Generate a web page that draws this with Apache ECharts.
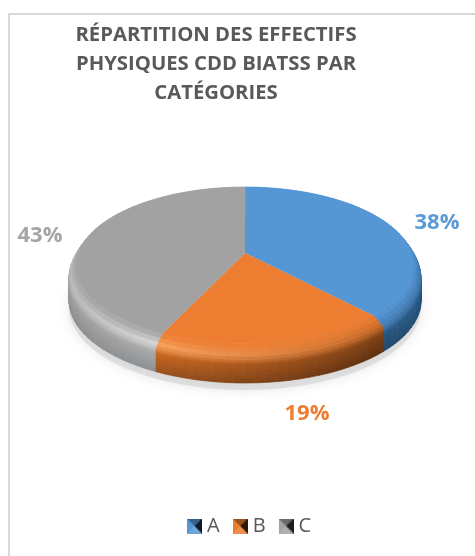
<!DOCTYPE html>
<html><head><meta charset="utf-8">
<style>html,body{margin:0;padding:0;background:#fff}#c{width:475px;height:556px}</style>
<script src="https://cdn.jsdelivr.net/npm/echarts@6/dist/echarts.min.js"></script>
</head><body><div id="c"></div>
<script>
var categories = ['A', 'B', 'C'];
var values = [38, 19, 43];
var titleText = 'RÉPARTITION DES EFFECTIFS\nPHYSIQUES CDD BIATSS PAR\nCATÉGORIES';
var colors = ['#5596D5', '#ED7D31', '#A2A2A2'];
var textColors = ['#5B9BD5', '#ED7D31', '#A5A5A5'];
var labelPos = [[437, 223], [307, 414], [40, 236]];

var cx = 245, cy = 253, a = 172.5, b = 79.2, k = 0.2, depth = 31;
var total = values.reduce(function (s, v) { return s + v; }, 0);

// rim shading: [s, colour at left end of slice, colour at right end of slice]
var rimProfile = [
  { x: [372, 421], fade: [0.85, 0.45], stops: [[0, '#5596D5', '#5596D5'], [0.2, '#4580B8', '#3F76AA'], [0.42, '#25547E', '#2A5C8A'], [1, '#1F4464', '#234C72']] },
  { x: [160, 378], fade: [0.4, 0], stops: [[0, '#ED7D31', '#ED7D31'], [0.16, '#F7A05C', '#C96A28'], [0.38, '#C9651F', '#7E4115'], [1, '#96501C', '#5C2E0E']] },
  { x: [68, 162], fade: [0.6, 0.05], stops: [[0, '#A2A2A2', '#A2A2A2'], [0.16, '#B9B9B9', '#D8D8D8'], [0.36, '#A0A0A0', '#AAAAAA'], [1, '#8E8E8E', '#8B9096']] }
];

function faceR(t) { return 0.965 + 0.035 * Math.cos(t); }
function proj(t, r, dy) {
  var u = Math.sin(t) * r, v = Math.cos(t) * r, d = 1 + k * v;
  return [cx + a * u / d, cy - b * v / d + (dy || 0)];
}
// s: 0 = inner edge of the bevel, 0.3 = widest outline, 1 = bottom of the side
function rimPoint(t, s) {
  var f = faceR(t), q = Math.min(1, s / 0.3);
  return proj(t, f + (1 - f) * Math.sin(q * Math.PI / 2), s * depth);
}
function rimArc(t0, t1, s, n) {
  var p = [];
  for (var i = 0; i <= n; i++) p.push(rimPoint(t0 + (t1 - t0) * i / n, s));
  return p;
}
function hex(c) { return [1, 3, 5].map(function (i) { return parseInt(c.substr(i, 2), 16); }); }
function mixRgb(x, y, f) { return x.map(function (v, i) { return v + (y[i] - v) * f; }); }
function rimRgb(p, s, side) {
  var st = p.stops;
  for (var i = 0; i < st.length - 1; i++) {
    if (s <= st[i + 1][0]) return mixRgb(hex(st[i][side]), hex(st[i + 1][side]), (s - st[i][0]) / (st[i + 1][0] - st[i][0]));
  }
  return hex(st[st.length - 1][side]);
}
function clamp01(v) { return Math.max(0, Math.min(1, v)); }
function shade(p, base, t, s, x) {
  var fx = clamp01((x - p.x[0]) / (p.x[1] - p.x[0]));
  var c = mixRgb(rimRgb(p, s, 1), rimRgb(p, s, 2), fx);
  // the bevel dies out toward the back of the disc
  var w = clamp01((p.fade[0] - Math.cos(t)) / (p.fade[0] - p.fade[1]));
  c = mixRgb(hex(base), c, w);
  return 'rgb(' + c.map(Math.round).join(',') + ')';
}
var LAYERS = 16, STEP = 0.05;
function sliceRender(i) {
  return function (params, api) {
    var before = 0;
    for (var j = 0; j < i; j++) before += values[j];
    var t0 = before / total * Math.PI * 2;
    var t1 = (before + api.value(0)) / total * Math.PI * 2;
    var n = Math.max(6, Math.ceil((t1 - t0) / STEP));
    var kids = [], p = rimProfile[i];
    for (var l = LAYERS - 1; l >= 0; l--) {
      var s0 = l / LAYERS, s1 = (l + 1) / LAYERS;
      for (var m = 0; m < n; m++) {
        var a0 = t0 + (t1 - t0) * m / n, a1 = t0 + (t1 - t0) * (m + 1) / n;
        var A = rimPoint(a0, s0), B = rimPoint(a1, s0), C = rimPoint(a1, s1), D = rimPoint(a0, s1);
        var col = shade(p, colors[i], (a0 + a1) / 2, (s0 + s1) / 2, (A[0] + B[0]) / 2);
        kids.push({ type: 'polygon', shape: { points: [A, B, C, D] }, style: { fill: col, stroke: col, lineWidth: 0.7 } });
      }
    }
    var fine = Math.ceil((t1 - t0) / 0.02);
    kids.push({ type: 'polygon', shape: { points: [[cx, cy]].concat(rimArc(t0, t1, 0, fine)) }, style: { fill: colors[i] } });
    kids.push({
      type: 'text', x: labelPos[i][0], y: labelPos[i][1],
      style: {
        text: Math.round(api.value(0) / total * 100) + '%',
        fill: textColors[i], font: 'bold 22px "Open Sans"', textAlign: 'center', textVerticalAlign: 'middle'
      }
    });
    return { type: 'group', children: kids };
  };
}
function legendIcon(col) {
  var c = document.createElement('canvas'); c.width = c.height = 15;
  var g = c.getContext('2d');
  function tri(x0, y0, x1, y1, fill, alpha) {
    g.globalAlpha = alpha; g.fillStyle = fill; g.beginPath(); g.moveTo(x0, y0);
    g.lineTo(x1, y1); g.lineTo(7.5, 7.5); g.closePath(); g.fill();
  }
  g.fillStyle = col; g.fillRect(0, 0, 15, 15);
  tri(0, 15, 15, 15, '#fff', 0.15);
  tri(0, 0, 15, 0, '#000', 0.35);
  tri(15, 0, 15, 15, '#000', 0.82);
  g.globalAlpha = 1;
  return 'image://' + c.toDataURL();
}
var series = [{
  name: 'shadow', type: 'custom', coordinateSystem: 'none', silent: true, z: 1, data: [[1]],
  renderItem: function () {
    var pts = [];
    for (var n = 0; n < 240; n++) pts.push(proj(n / 240 * Math.PI * 2, 1, 38));
    return {
      type: 'polygon',
      shape: { points: pts },
      style: { fill: 'rgba(205,205,205,0.55)', shadowBlur: 12, shadowColor: 'rgba(190,190,190,0.7)' }
    };
  }
}];
categories.forEach(function (name, i) {
  series.push({
    name: name, type: 'custom', coordinateSystem: 'none', silent: true, z: 2,
    itemStyle: { color: colors[i] }, data: [[values[i]]], renderItem: sliceRender(i)
  });
});
var chart = echarts.init(document.getElementById('c'), null, { renderer: 'canvas' });
chart.setOption({
  animation: false,
  backgroundColor: '#fff',
  graphic: [
    { type: 'line', z: 0, silent: true, shape: { x1: 9, y1: 14, x2: 9, y2: 556 }, style: { stroke: '#D9D9D9', lineWidth: 2 } },
    { type: 'line', z: 0, silent: true, shape: { x1: 8, y1: 14, x2: 475, y2: 14 }, style: { stroke: '#D9D9D9', lineWidth: 2 } }
  ],
  title: {
    text: titleText, left: 216, top: 21, padding: 0, textAlign: 'center',
    textStyle: { fontFamily: '"Open Sans"', fontWeight: 'bold', fontSize: 20.3, lineHeight: 29, color: '#595959' }
  },
  legend: {
    data: categories.map(function (n, i) { return { name: n, icon: legendIcon(colors[i]) }; }),
    left: 187, top: 516, padding: 0, itemWidth: 15, itemHeight: 15, itemGap: 13,
    textStyle: { fontFamily: '"Open Sans"', fontSize: 20, color: '#595959' }
  },
  series: series
});
</script></body></html>
